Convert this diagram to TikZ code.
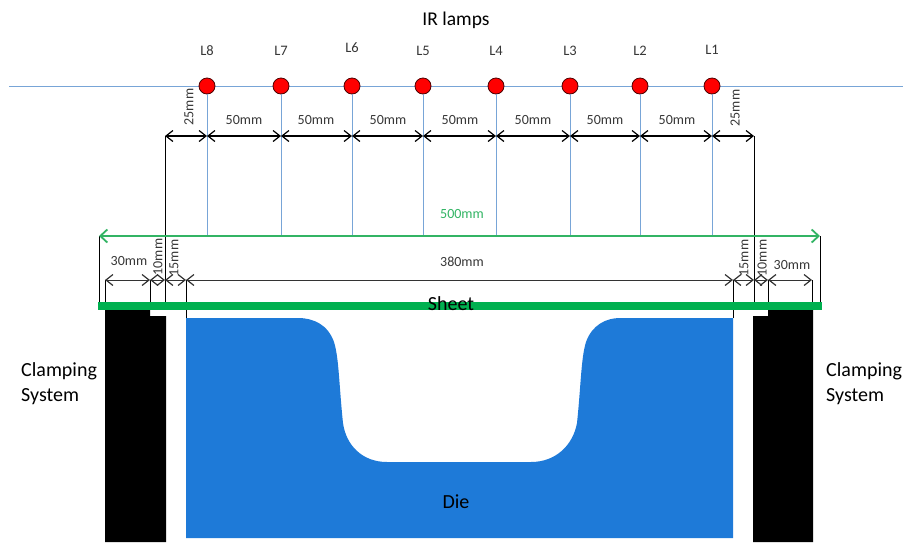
\documentclass[tikz,border=0pt]{standalone}
\usepackage{fontspec}
\setmainfont{Carlito}
\usetikzlibrary{arrows.meta}
\definecolor{linkblue}{RGB}{120,165,215}
\definecolor{sheetgreen}{RGB}{0,176,80}
\definecolor{dimgreen}{RGB}{50,180,100}
\definecolor{dieblue}{RGB}{30,122,216}
\definecolor{lampred}{RGB}{255,0,0}
\definecolor{lbl}{RGB}{55,55,55}
\tikzset{
 lamp/.style={circle,draw=black!70!red,line width=.8pt,fill=lampred,minimum size=16pt,inner sep=0pt},
 rail/.style={draw=linkblue,line width=1pt},
 dimline/.style={draw=black!80,line width=1pt,{Straight Barb[length=7pt,width=11pt,line width=1.2pt]}-{Straight Barb[length=7pt,width=11pt,line width=1.2pt]}},
 topdim/.style={dimline,draw=black,line width=1.3pt},
 extline/.style={draw=black,line width=.9pt},
 greendim/.style={draw=dimgreen,line width=1.6pt,{Straight Barb[length=7pt,width=13pt,line width=1.8pt]}-{Straight Barb[length=7pt,width=13pt,line width=1.8pt]}},
 lbltxt/.style={inner sep=0pt,text=lbl,font=\fontsize{14}{16}\selectfont},
 bigtxt/.style={inner sep=0pt,text=black,font=\fontsize{20}{25}\selectfont,align=left},
 vtxt/.style={lbltxt,rotate=90},
}
\begin{document}
\begin{tikzpicture}[x=1pt,y=-1pt]
\useasboundingbox (0,0) rectangle (903,542);
% die and clamps
\fill[dieblue] (186,318) -- (298,318) .. controls (314,318) and (328,325) .. (334,342)
  .. controls (339,358) and (339,385) .. (343,423)
  .. controls (346,445) and (362,462) .. (387,462)
  -- (531,462) .. controls (556,462) and (573,445) .. (577,423)
  .. controls (581,385) and (581,358) .. (586,342)
  .. controls (592,325) and (606,318) .. (620,318)
  -- (733,318) -- (733,538) -- (186,538) -- cycle;
\fill[black] (105,310) -- (150,310) -- (150,316) -- (166,316) -- (166,542) -- (105,542) -- cycle;
\fill[black] (813,310) -- (768,310) -- (768,316) -- (753,316) -- (753,542) -- (813,542) -- cycle;
% coordinates
\foreach \n/\x/\y in {a/99/305,b/105/310,c/150/310,d/165/310,e/186/318,f/733/318,g/754/310,h/768/310,i/812/310,j/820/305}{
  \coordinate (\n bot) at (\x,\y);}
\coordinate (railL) at (9,86);
\coordinate (railR) at (903,86);
\coordinate (d0) at (165,136);
\coordinate (d9) at (754,136);
% rail and lamp drop lines
\draw[rail] (railL) -- (railR);
\foreach \n/\x in {8/207,7/281,6/352,5/423,4/496,3/570,2/640,1/712}{
  \node[lamp] (lamp\n) at (\x,86) {};
  \coordinate (top\n) at (\x,136);
  \coordinate (low\n) at (\x,235);
  \draw[rail] (lamp\n) -- (low\n);
}
% top dimensions
\draw[extline] (d0) -- (dbot);
\draw[extline] (d9) -- (gbot);
\draw[topdim] (d0) -- (top8);
\draw[topdim] (top8) -- (top7);
\draw[topdim] (top7) -- (top6);
\draw[topdim] (top6) -- (top5);
\draw[topdim] (top5) -- (top4);
\draw[topdim] (top4) -- (top3);
\draw[topdim] (top3) -- (top2);
\draw[topdim] (top2) -- (top1);
\draw[topdim] (top1) -- (d9);
% green dimension
\coordinate (gl) at (99,236);
\coordinate (gr) at (820,236);
\draw[extline] (gl) -- (abot);
\draw[extline] (gr) -- (jbot);
\draw[greendim] (gl) -- (gr);
% lower row
\coordinate (r1) at (105,280);
\coordinate (r2) at (150,280);
\coordinate (r3) at (165,280);
\coordinate (r4) at (186,280);
\coordinate (r5) at (733,280);
\coordinate (r6) at (754,280);
\coordinate (r7) at (768,280);
\coordinate (r8) at (812,280);
\draw[extline] (r1) -- (bbot);
\draw[extline] (r2) -- (cbot);
\draw[extline] (r4) -- (ebot);
\draw[extline] (r5) -- (fbot);
\draw[extline] (r7) -- (hbot);
\draw[extline] (r8) -- (ibot);
\draw[dimline] (r1) -- (r2);
\draw[dimline] (r2) -- (r3);
\draw[dimline] (r3) -- (r4);
\draw[dimline] (r4) -- (r5);
\draw[dimline] (r5) -- (r6);
\draw[dimline] (r6) -- (r7);
\draw[dimline] (r7) -- (r8);
% sheet
\fill[sheetgreen] (98,302) rectangle (822,310);
% texts
\node[bigtxt,font=\fontsize{19.5}{25}\selectfont] (title) at (456,20) {IR lamps};
\foreach \n/\x/\y in {8/207/51,7/281/51,6/352/48,5/423/51,4/496/51,3/570/51,2/640/51,1/712/50}{
  \node[lbltxt,font=\fontsize{14.5}{16}\selectfont] (name\n) at (\x,\y) {L\n};}
\foreach \n/\x in {a/244,b/316,c/388,d/460,e/533,f/605,g/677}{
  \node[lbltxt] (fifty\n) at (\x,120) {50mm};}
\node[vtxt] (q1) at (189,107) {25mm};
\node[vtxt] (q2) at (735,108) {25mm};
\node[lbltxt,text=dimgreen] (total) at (462,214) {500mm};
\node[lbltxt] (span) at (462,262) {380mm};
\node[lbltxt] (m1) at (129,261) {30mm};
\node[lbltxt] (m2) at (792,265) {30mm};
\node[vtxt] (t1) at (158,257) {10mm};
\node[vtxt] (t2) at (174,258) {15mm};
\node[vtxt] (t3) at (744,258) {15mm};
\node[vtxt] (t4) at (762,258) {10mm};
\node[bigtxt] (sheet) at (451,304) {Sheet};
\node[bigtxt] (die) at (456,502) {Die};
\node[bigtxt,anchor=west] (cl) at (21,384) {Clamping\\System};
\node[bigtxt,anchor=west] (cr) at (826,384) {Clamping\\System};
\end{tikzpicture}
\end{document}
